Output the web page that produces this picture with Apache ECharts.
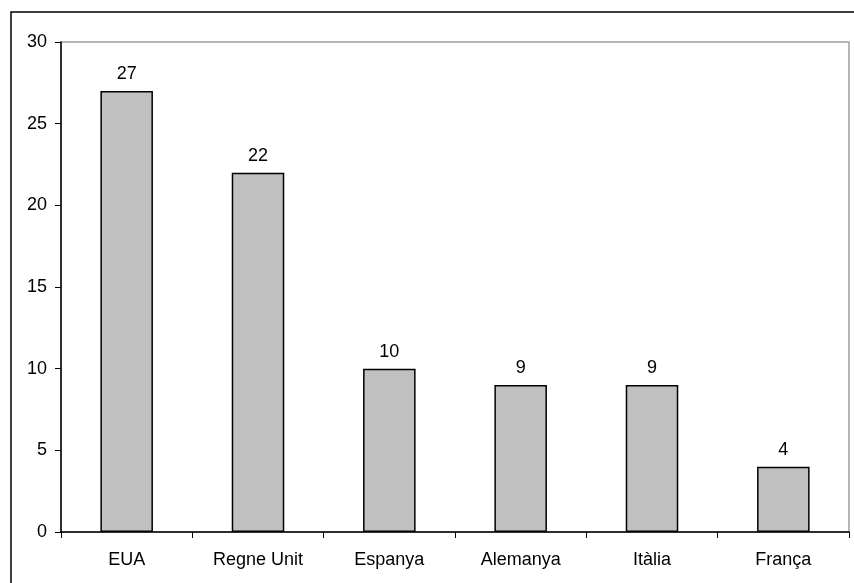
<!DOCTYPE html>
<html>
<head>
<meta charset="utf-8">
<script src="https://cdn.jsdelivr.net/npm/echarts@6/dist/echarts.min.js"></script>
<style>
html,body{margin:0;padding:0;background:#fff;}
#chart{width:854px;height:583px;}
</style>
</head>
<body>
<div id="chart"></div>
<script>
const categories = ['EUA', 'Regne Unit', 'Espanya', 'Alemanya', 'Itàlia', 'França'];
const values = [27, 22, 10, 9, 9, 4];
const yTicks = { min: 0, max: 30, interval: 5 };

const FONT = '"Liberation Sans", Arial, Helvetica, sans-serif';
const chart = echarts.init(document.getElementById('chart'), null, { renderer: 'canvas' });
chart.setOption({
  animation: false,
  backgroundColor: '#fff',
  textStyle: { fontFamily: FONT },
  graphic: [{
    type: 'rect',
    shape: { x: 11, y: 12, width: 1000, height: 1000 },
    style: { fill: 'none', stroke: '#000', lineWidth: 1.5 },
    silent: true, z: 0
  }],
  grid: {
    left: 61, top: 42, right: 5, bottom: 51,
    show: true, borderColor: '#a0a0a0', borderWidth: 1.5, backgroundColor: 'transparent'
  },
  xAxis: {
    type: 'category',
    data: categories,
    axisLine: { lineStyle: { color: '#000', width: 1.5 } },
    axisTick: { show: true, length: 6, alignWithLabel: false, lineStyle: { color: '#000', width: 1 } },
    axisLabel: { color: '#000', fontSize: 18, fontFamily: FONT, margin: 19 },
    splitLine: { show: false }
  },
  yAxis: {
    type: 'value',
    min: yTicks.min, max: yTicks.max, interval: yTicks.interval,
    axisLine: { show: true, lineStyle: { color: '#000', width: 1.5 } },
    axisTick: { show: true, length: 6, lineStyle: { color: '#000', width: 1 } },
    axisLabel: { color: '#000', fontSize: 18, fontFamily: FONT, margin: 14 },
    splitLine: { show: false }
  },
  series: [{
    type: 'bar',
    data: values,
    barWidth: '40%',
    itemStyle: { color: '#c0c0c0', borderColor: '#000', borderWidth: 1.5 },
    label: { show: true, position: 'top', distance: 8, color: '#000', fontSize: 18, fontFamily: FONT }
  }]
});
</script>
</body>
</html>
